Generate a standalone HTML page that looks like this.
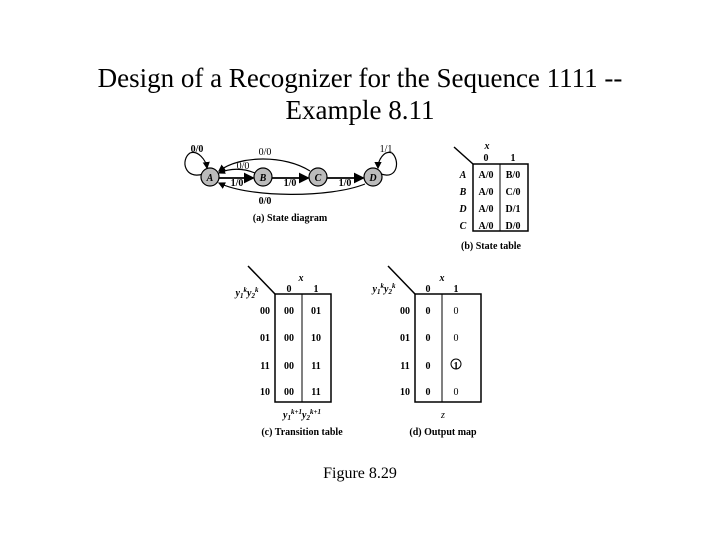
<!DOCTYPE html>
<html><head><style>
body{margin:0;background:#fff;}
svg text{font-family:"Liberation Serif",serif;fill:#000;}
</style></head><body>
<svg width="720" height="540" viewBox="0 0 720 540" xmlns="http://www.w3.org/2000/svg">
<defs><marker id="ar" markerWidth="6" markerHeight="6" refX="5" refY="3" orient="auto"><path d="M0,0 L6,3 L0,6 z" fill="#000"/></marker></defs>
<text x="360" y="87" font-size="27" text-anchor="middle">Design of a Recognizer for the Sequence 1111 --</text>
<text x="360" y="119" font-size="27" text-anchor="middle">Example 8.11</text>

<!-- State diagram -->
<g stroke="#000" fill="none" stroke-width="1.2">
<path d="M203,174 C185,180 180,160 190,153 C198,150 206,160 207,168" marker-end="url(#ar)"/>
<path d="M381,174 C398,180 400,160 392,153 C384,150 378,160 378,168" marker-end="url(#ar)"/>
<path d="M310,171 C285,155 240,155 219,171" marker-end="url(#ar)"/>
<path d="M255,173 C243,168 230,168 219,173" marker-end="url(#ar)"/>
<path d="M219,178 L253,178" marker-end="url(#ar)" stroke-width="1.8"/>
<path d="M272,178 L308,178" marker-end="url(#ar)" stroke-width="1.8"/>
<path d="M327,178 L363,178" marker-end="url(#ar)" stroke-width="1.8"/>
<path d="M365,184 C330,198 250,198 219,183" marker-end="url(#ar)"/>
</g>
<g fill="#bbb" stroke="#000" stroke-width="1.2">
<circle cx="210" cy="177" r="9"/><circle cx="263" cy="177" r="9"/><circle cx="318" cy="177" r="9"/><circle cx="373" cy="177" r="9"/>
</g>
<g font-size="10" font-weight="bold" font-style="italic" text-anchor="middle">
<text x="210" y="181">A</text><text x="263" y="181">B</text><text x="318" y="181">C</text><text x="373" y="181">D</text>
</g>
<g font-size="10" text-anchor="middle">
<text x="197" y="152" font-weight="bold">0/0</text>
<text x="386" y="152">1/1</text>
<text x="265" y="155">0/0</text>
<text x="243" y="169">0/0</text>
<text x="237" y="186" font-weight="bold">1/0</text>
<text x="290" y="186" font-weight="bold">1/0</text>
<text x="345" y="186" font-weight="bold">1/0</text>
<text x="265" y="204" font-weight="bold">0/0</text>
<text x="290" y="221" font-weight="bold">(a) State diagram</text>
</g>

<!-- State table -->
<line x1="454" y1="147" x2="473" y2="164" stroke="#000" stroke-width="1.5"/>
<rect x="473" y="164" width="55" height="67" fill="none" stroke="#000" stroke-width="1.5"/>
<line x1="500" y1="164" x2="500" y2="231" stroke="#000"/>
<g font-size="10" font-weight="bold" text-anchor="middle">
<text x="487" y="149" font-style="italic">x</text>
<text x="486" y="161">0</text><text x="513" y="161">1</text>
<g font-style="italic"><text x="463" y="178">A</text><text x="463" y="195">B</text><text x="463" y="212">D</text><text x="463" y="229">C</text></g>
<text x="486" y="178">A/0</text><text x="513" y="178">B/0</text>
<text x="486" y="195">A/0</text><text x="513" y="195">C/0</text>
<text x="486" y="212">A/0</text><text x="513" y="212">D/1</text>
<text x="486" y="229">A/0</text><text x="513" y="229">D/0</text>
<text x="491" y="249">(b) State table</text>
</g>

<!-- Transition table -->
<line x1="248" y1="266" x2="275" y2="294" stroke="#000" stroke-width="1.5"/>
<rect x="275" y="294" width="56" height="108" fill="none" stroke="#000" stroke-width="1.5"/>
<line x1="302" y1="294" x2="302" y2="402" stroke="#000"/>
<g font-size="10" font-weight="bold" text-anchor="middle">
<text x="301" y="281" font-style="italic">x</text>
<text x="289" y="292">0</text><text x="316" y="292">1</text>
<text x="247" y="296" font-style="italic">y<tspan font-size="7" dy="2">1</tspan><tspan font-size="7" dy="-6">k</tspan><tspan dy="4">y</tspan><tspan font-size="7" dy="2">2</tspan><tspan font-size="7" dy="-6">k</tspan></text>
<text x="265" y="314">00</text><text x="265" y="341">01</text><text x="265" y="369">11</text><text x="265" y="395">10</text>
<text x="289" y="314">00</text><text x="316" y="314">01</text>
<text x="289" y="341">00</text><text x="316" y="341">10</text>
<text x="289" y="369">00</text><text x="316" y="369">11</text>
<text x="289" y="395">00</text><text x="316" y="395">11</text>
<text x="302" y="418" font-style="italic">y<tspan font-size="7" dy="2">1</tspan><tspan font-size="7" dy="-6">k+1</tspan><tspan dy="4">y</tspan><tspan font-size="7" dy="2">2</tspan><tspan font-size="7" dy="-6">k+1</tspan></text>
<text x="302" y="435">(c) Transition table</text>
</g>

<!-- Output map -->
<line x1="388" y1="266" x2="415" y2="294" stroke="#000" stroke-width="1.5"/>
<rect x="415" y="294" width="66" height="108" fill="none" stroke="#000" stroke-width="1.5"/>
<line x1="442" y1="294" x2="442" y2="402" stroke="#000"/>
<g font-size="10" font-weight="bold" text-anchor="middle">
<text x="442" y="281" font-style="italic">x</text>
<text x="428" y="292">0</text><text x="456" y="292">1</text>
<text x="384" y="292" font-style="italic">y<tspan font-size="7" dy="2">1</tspan><tspan font-size="7" dy="-6">k</tspan><tspan dy="4">y</tspan><tspan font-size="7" dy="2">2</tspan><tspan font-size="7" dy="-6">k</tspan></text>
<text x="405" y="314">00</text><text x="405" y="341">01</text><text x="405" y="369">11</text><text x="405" y="395">10</text>
<text x="428" y="314">0</text><text x="456" y="314" font-weight="normal">0</text>
<text x="428" y="341">0</text><text x="456" y="341" font-weight="normal">0</text>
<text x="428" y="369">0</text><text x="456" y="369">1</text>
<text x="428" y="395">0</text><text x="456" y="395" font-weight="normal">0</text>
<text x="443" y="418" font-style="italic" font-weight="normal">z</text>
<text x="443" y="435">(d) Output map</text>
</g>
<circle cx="456" cy="364" r="5" fill="none" stroke="#000"/>

<text x="360" y="478" font-size="16" text-anchor="middle">Figure 8.29</text>
</svg>
</body></html>
